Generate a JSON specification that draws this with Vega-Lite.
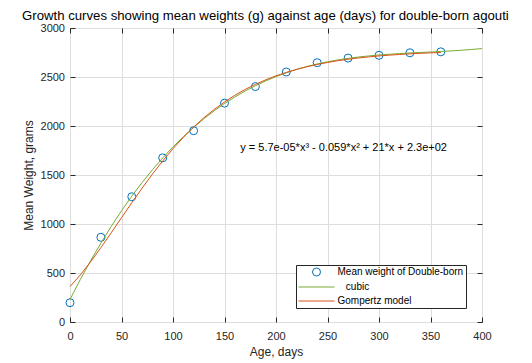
{
  "$schema": "https://vega.github.io/schema/vega-lite/v6.json",
  "autosize": {"type": "none"},
  "width": 412,
  "height": 294,
  "padding": {"left": 70, "top": 28, "right": 50, "bottom": 41},
  "background": "white",
  "config": {
    "font": "Liberation Sans",
    "view": {"stroke": "#262626", "strokeWidth": 1},
    "axis": {"labelColor": "#262626", "titleColor": "#262626", "labelFontSize": 11, "titleFontSize": 12, "titleFontWeight": "normal", "labelFont": "Liberation Sans", "titleFont": "Liberation Sans"}
  },
  "title": {
    "text": "Growth curves showing mean weights (g) against age (days) for double-born agouti",
    "anchor": "start", "frame": "group", "dx": -48, "offset": -1,
    "fontSize": 13.2, "fontWeight": "normal", "font": "Liberation Sans", "color": "#000000"
  },
  "datasets": {
    "obs": [
      {"age": 0, "weight": 197, "series": "Mean weight of Double-born"},
      {"age": 30, "weight": 864, "series": "Mean weight of Double-born"},
      {"age": 60, "weight": 1278, "series": "Mean weight of Double-born"},
      {"age": 90, "weight": 1675, "series": "Mean weight of Double-born"},
      {"age": 120, "weight": 1952, "series": "Mean weight of Double-born"},
      {"age": 150, "weight": 2233, "series": "Mean weight of Double-born"},
      {"age": 180, "weight": 2402, "series": "Mean weight of Double-born"},
      {"age": 210, "weight": 2551, "series": "Mean weight of Double-born"},
      {"age": 240, "weight": 2646, "series": "Mean weight of Double-born"},
      {"age": 270, "weight": 2693, "series": "Mean weight of Double-born"},
      {"age": 300, "weight": 2721, "series": "Mean weight of Double-born"},
      {"age": 330, "weight": 2747, "series": "Mean weight of Double-born"},
      {"age": 360, "weight": 2757, "series": "Mean weight of Double-born"}
    ],
    "cubic": [
      {"age": 0, "weight": 230, "series": "cubic"},
      {"age": 10, "weight": 433, "series": "cubic"},
      {"age": 20, "weight": 625, "series": "cubic"},
      {"age": 30, "weight": 805, "series": "cubic"},
      {"age": 40, "weight": 975, "series": "cubic"},
      {"age": 50, "weight": 1135, "series": "cubic"},
      {"age": 60, "weight": 1284, "series": "cubic"},
      {"age": 70, "weight": 1423, "series": "cubic"},
      {"age": 80, "weight": 1553, "series": "cubic"},
      {"age": 90, "weight": 1674, "series": "cubic"},
      {"age": 100, "weight": 1787, "series": "cubic"},
      {"age": 110, "weight": 1890, "series": "cubic"},
      {"age": 120, "weight": 1986, "series": "cubic"},
      {"age": 130, "weight": 2074, "series": "cubic"},
      {"age": 140, "weight": 2155, "series": "cubic"},
      {"age": 150, "weight": 2229, "series": "cubic"},
      {"age": 160, "weight": 2296, "series": "cubic"},
      {"age": 170, "weight": 2357, "series": "cubic"},
      {"age": 180, "weight": 2411, "series": "cubic"},
      {"age": 190, "weight": 2460, "series": "cubic"},
      {"age": 200, "weight": 2504, "series": "cubic"},
      {"age": 210, "weight": 2543, "series": "cubic"},
      {"age": 220, "weight": 2577, "series": "cubic"},
      {"age": 230, "weight": 2607, "series": "cubic"},
      {"age": 240, "weight": 2633, "series": "cubic"},
      {"age": 250, "weight": 2655, "series": "cubic"},
      {"age": 260, "weight": 2674, "series": "cubic"},
      {"age": 270, "weight": 2690, "series": "cubic"},
      {"age": 280, "weight": 2704, "series": "cubic"},
      {"age": 290, "weight": 2715, "series": "cubic"},
      {"age": 300, "weight": 2725, "series": "cubic"},
      {"age": 310, "weight": 2732, "series": "cubic"},
      {"age": 320, "weight": 2739, "series": "cubic"},
      {"age": 330, "weight": 2745, "series": "cubic"},
      {"age": 340, "weight": 2750, "series": "cubic"},
      {"age": 350, "weight": 2755, "series": "cubic"},
      {"age": 360, "weight": 2761, "series": "cubic"},
      {"age": 370, "weight": 2766, "series": "cubic"},
      {"age": 380, "weight": 2773, "series": "cubic"},
      {"age": 390, "weight": 2781, "series": "cubic"},
      {"age": 400, "weight": 2790, "series": "cubic"}
    ],
    "gompertz": [
      {"age": 0, "weight": 361, "series": "Gompertz model"},
      {"age": 10, "weight": 480, "series": "Gompertz model"},
      {"age": 20, "weight": 614, "series": "Gompertz model"},
      {"age": 30, "weight": 759, "series": "Gompertz model"},
      {"age": 40, "weight": 910, "series": "Gompertz model"},
      {"age": 50, "weight": 1064, "series": "Gompertz model"},
      {"age": 60, "weight": 1217, "series": "Gompertz model"},
      {"age": 70, "weight": 1366, "series": "Gompertz model"},
      {"age": 80, "weight": 1509, "series": "Gompertz model"},
      {"age": 90, "weight": 1643, "series": "Gompertz model"},
      {"age": 100, "weight": 1769, "series": "Gompertz model"},
      {"age": 110, "weight": 1883, "series": "Gompertz model"},
      {"age": 120, "weight": 1989, "series": "Gompertz model"},
      {"age": 130, "weight": 2084, "series": "Gompertz model"},
      {"age": 140, "weight": 2169, "series": "Gompertz model"},
      {"age": 150, "weight": 2245, "series": "Gompertz model"},
      {"age": 160, "weight": 2313, "series": "Gompertz model"},
      {"age": 170, "weight": 2373, "series": "Gompertz model"},
      {"age": 180, "weight": 2425, "series": "Gompertz model"},
      {"age": 190, "weight": 2471, "series": "Gompertz model"},
      {"age": 200, "weight": 2512, "series": "Gompertz model"},
      {"age": 210, "weight": 2547, "series": "Gompertz model"},
      {"age": 220, "weight": 2578, "series": "Gompertz model"},
      {"age": 230, "weight": 2605, "series": "Gompertz model"},
      {"age": 240, "weight": 2628, "series": "Gompertz model"},
      {"age": 250, "weight": 2648, "series": "Gompertz model"},
      {"age": 260, "weight": 2666, "series": "Gompertz model"},
      {"age": 270, "weight": 2681, "series": "Gompertz model"},
      {"age": 280, "weight": 2694, "series": "Gompertz model"},
      {"age": 290, "weight": 2705, "series": "Gompertz model"},
      {"age": 300, "weight": 2715, "series": "Gompertz model"},
      {"age": 310, "weight": 2723, "series": "Gompertz model"},
      {"age": 320, "weight": 2730, "series": "Gompertz model"},
      {"age": 330, "weight": 2736, "series": "Gompertz model"},
      {"age": 340, "weight": 2742, "series": "Gompertz model"},
      {"age": 350, "weight": 2746, "series": "Gompertz model"},
      {"age": 360, "weight": 2750, "series": "Gompertz model"}
    ],
    "note": [
      {"age": 165.3, "weight": 1777, "label": "y = 5.7e-05*x³ - 0.059*x² + 21*x + 2.3e+02"}
    ]
  },
  "resolve": {"axis": {"x": "independent", "y": "independent"}},
  "layer": [
    {
      "data": {"name": "obs"},
      "mark": {"type": "point", "filled": false, "size": 64, "strokeWidth": 1, "opacity": 1},
      "encoding": {
        "x": {"field": "age", "type": "quantitative",
          "scale": {"domain": [0, 400], "nice": false},
          "axis": {"orient": "bottom", "title": "Age, days", "values": [0,50,100,150,200,250,300,350,400],
            "format": "d", "domain": false, "tickSize": -5, "tickColor": "#262626", "labelPadding": 13,
            "grid": true, "gridColor": "#dedede", "labelFlush": false, "titlePadding": 5}},
        "y": {"field": "weight", "type": "quantitative",
          "scale": {"domain": [0, 3000], "nice": false},
          "axis": {"orient": "left", "title": "Mean Weight, grams", "values": [0,500,1000,1500,2000,2500,3000],
            "format": "d", "domain": false, "tickSize": -5, "tickColor": "#262626", "labelPadding": 10.5,
            "grid": true, "gridColor": "#dedede", "titlePadding": 5}},
        "color": {"field": "series", "type": "nominal",
          "scale": {"domain": ["Mean weight of Double-born", "cubic", "Gompertz model"], "range": ["#0072BD", "#77AC30", "#D95319"]},
          "legend": {
            "title": null, "orient": "none", "legendX": 226, "legendY": 237,
            "fillColor": "white", "strokeColor": "#262626", "padding": 2,
            "labelFont": "Liberation Sans", "labelFontSize": 10, "labelColor": "#000000",
            "symbolSize": 64, "symbolStrokeWidth": 1, "symbolFillColor": "transparent",
            "symbolOffset": 13.5, "labelOffset": 16, "rowPadding": 4,
            "labelExpr": "datum.value == 'cubic' ? '\u200b\u00a0\u00a0\u00a0cubic' : datum.label"
          }},
        "shape": {"field": "series", "type": "nominal",
          "scale": {"domain": ["Mean weight of Double-born", "cubic", "Gompertz model"], "range": ["circle", "M-4.5,0H4.5", "M-4.5,0H4.5"]},
          "legend": {
            "title": null, "orient": "none", "legendX": 226, "legendY": 237,
            "fillColor": "white", "strokeColor": "#262626", "padding": 2,
            "labelFont": "Liberation Sans", "labelFontSize": 10, "labelColor": "#000000",
            "symbolSize": 64, "symbolStrokeWidth": 1, "symbolFillColor": "transparent",
            "symbolOffset": 13.5, "labelOffset": 16, "rowPadding": 4,
            "labelExpr": "datum.value == 'cubic' ? '\u200b\u00a0\u00a0\u00a0cubic' : datum.label"
          }}
      }
    },
    {
      "data": {"name": "cubic"},
      "mark": {"type": "line", "strokeWidth": 1},
      "encoding": {
        "x": {"field": "age", "type": "quantitative",
          "axis": {"orient": "top", "title": null, "labels": false, "domain": false, "grid": false,
            "values": [0,50,100,150,200,250,300,350,400], "tickSize": -5, "tickColor": "#262626"}},
        "y": {"field": "weight", "type": "quantitative",
          "axis": {"orient": "right", "title": null, "labels": false, "domain": false, "grid": false,
            "values": [0,500,1000,1500,2000,2500,3000], "tickSize": -5, "tickColor": "#262626"}},
        "color": {"field": "series", "type": "nominal"}
      }
    },
    {
      "data": {"name": "gompertz"},
      "mark": {"type": "line", "strokeWidth": 1},
      "encoding": {
        "x": {"field": "age", "type": "quantitative", "axis": null},
        "y": {"field": "weight", "type": "quantitative", "axis": null},
        "color": {"field": "series", "type": "nominal"}
      }
    },
    {
      "data": {"name": "note"},
      "mark": {"type": "text", "align": "left", "baseline": "middle", "fontSize": 11, "font": "Liberation Sans", "color": "#000000"},
      "encoding": {
        "x": {"field": "age", "type": "quantitative", "axis": null},
        "y": {"field": "weight", "type": "quantitative", "axis": null},
        "text": {"field": "label"}
      }
    }
  ]
}
